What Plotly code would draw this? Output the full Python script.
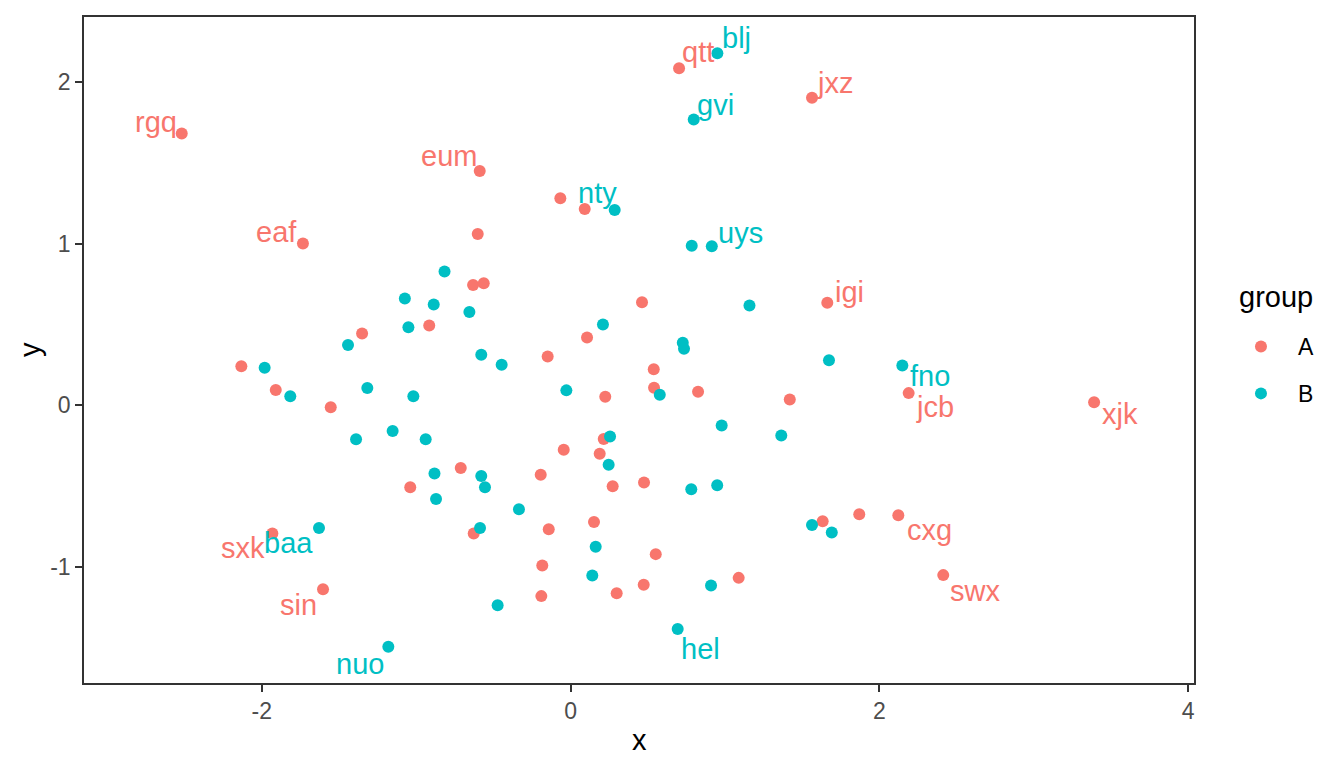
import plotly.graph_objects as go

# group A (red) points
a_x = [-2.518, -1.733, -0.588, 0.703, 1.564, -0.066, 0.092, -0.601, -0.631, -0.562,
       0.463, 1.663, -1.350, -0.915, 0.107, -0.148, -2.132, -1.909, -1.553, 0.539,
       0.541, 0.826, 0.225, 1.420, 2.190, 3.391, 0.215, -0.044, 0.189, -0.711,
       -0.193, -1.038, 0.273, 0.476, 1.870, 2.123, 1.633, 0.152, -0.141, -0.627,
       -1.931, 0.552, -0.183, 2.414, 1.089, 0.474, 0.299, -0.189, -1.603]
a_y = [1.684, 1.002, 1.451, 2.088, 1.905, 1.282, 1.216, 1.062, 0.746, 0.756,
       0.639, 0.635, 0.445, 0.495, 0.421, 0.303, 0.243, 0.095, -0.011, 0.224,
       0.109, 0.085, 0.054, 0.037, 0.076, 0.019, -0.208, -0.274, -0.299, -0.388,
       -0.429, -0.507, -0.501, -0.478, -0.674, -0.680, -0.717, -0.722, -0.767, -0.793,
       -0.793, -0.921, -0.991, -1.051, -1.068, -1.111, -1.163, -1.181, -1.138]
a_lab = ["rgq", "eaf", "eum", "qtt", "jxz", "", "", "", "", "",
         "", "igi", "", "", "", "", "", "", "", "",
         "", "", "", "", "jcb", "xjk", "", "", "", "",
         "", "", "", "", "", "cxg", "", "", "", "",
         "sxk", "", "", "swx", "", "", "", "", "sin"]

# group B (teal) points
b_x = [0.951, 0.798, 0.286, 0.785, 0.915, 1.159, -0.816, -1.073, -0.886, -1.050,
       -0.655, -1.441, 0.210, 0.727, 0.735, -0.578, -0.446, -1.981, 1.674, 2.149,
       -1.316, -1.815, -1.018, -0.027, 0.578, 0.979, 1.365, -1.152, -1.389, -0.938,
       0.256, 0.247, -0.881, -0.578, -0.554, -0.871, -0.334, 0.782, 0.950, 1.564,
       1.692, -1.629, -0.586, 0.163, 0.141, -0.472, 0.910, 0.694, -1.180]
b_y = [2.181, 1.771, 1.210, 0.988, 0.985, 0.618, 0.829, 0.662, 0.625, 0.484,
       0.579, 0.374, 0.501, 0.388, 0.351, 0.314, 0.252, 0.233, 0.280, 0.247,
       0.107, 0.056, 0.056, 0.093, 0.066, -0.124, -0.186, -0.159, -0.210, -0.210,
       -0.192, -0.367, -0.422, -0.437, -0.507, -0.579, -0.643, -0.519, -0.495, -0.740,
       -0.787, -0.759, -0.759, -0.876, -1.053, -1.237, -1.115, -1.385, -1.495]
b_lab = ["blj", "gvi", "nty", "", "uys", "", "", "", "", "",
         "", "", "", "", "", "", "", "", "", "fno",
         "", "", "", "", "", "", "", "", "", "",
         "", "", "", "", "", "", "", "", "", "",
         "", "baa", "", "", "", "", "", "hel", "nuo"]

x_ticks = [-2, 0, 2, 4]
y_ticks = [-1, 0, 1, 2]

# repel-style label offsets in pixels (dx right, dy up)
offsets = {
    "rgq": (-26, 11), "eaf": (-26, 12), "eum": (-31, 15), "qtt": (19, 16),
    "blj": (19, 15), "jxz": (23, 15), "gvi": (22, 14), "nty": (-17, 17),
    "uys": (29, 13), "igi": (22, 11), "fno": (28, -10), "jcb": (26, -14),
    "xjk": (26, -12), "cxg": (31, -15), "swx": (32, -16), "hel": (23, -20),
    "nuo": (-28, -17), "sin": (-25, -16), "sxk": (-29, -15), "baa": (-31, -15),
}

RED = "#F8766D"
TEAL = "#00BFC4"
FONT = "Liberation Sans, Arial, sans-serif"

fig = go.Figure()
fig.add_trace(go.Scatter(x=a_x, y=a_y, mode="markers", name="A", legendgroup="A",
                         marker=dict(color=RED, size=12)))
fig.add_trace(go.Scatter(x=b_x, y=b_y, mode="markers", name="B", legendgroup="B",
                         marker=dict(color=TEAL, size=12)))

annotations = []
for xs, ys, labs, col in [(a_x, a_y, a_lab, RED), (b_x, b_y, b_lab, TEAL)]:
    for xv, yv, lab in zip(xs, ys, labs):
        if not lab:
            continue
        dx, dy = offsets[lab]
        annotations.append(dict(x=xv, y=yv, text=lab, showarrow=False,
                                xshift=dx, yshift=dy, xanchor="center", yanchor="middle",
                                font=dict(size=29, color=col, family=FONT)))

# axis titles + legend title
annotations.append(dict(x=0.5, y=0, xref="paper", yref="paper", text="x", showarrow=False,
                        yshift=-57, yanchor="middle", font=dict(size=29, color="black", family=FONT)))
annotations.append(dict(x=0, y=0.5, xref="paper", yref="paper", text="y", showarrow=False,
                        xshift=-54, xanchor="center", textangle=-90,
                        font=dict(size=29, color="black", family=FONT)))
annotations.append(dict(x=1.0387, y=0.5793, xref="paper", yref="paper", text="group",
                        showarrow=False, xanchor="left", yanchor="middle",
                        font=dict(size=29, color="black", family=FONT)))

axis_style = dict(showgrid=False, zeroline=False, showline=True, mirror=True,
                  linecolor="#333333", linewidth=1.5, ticks="outside", ticklen=7,
                  tickwidth=1.5, tickcolor="#333333",
                  tickfont=dict(size=23, color="#4D4D4D", family=FONT))

fig.update_xaxes(range=[-3.151, 4.038], tickvals=x_ticks,
                 ticktext=[str(v) for v in x_ticks], **axis_style)
fig.update_yaxes(range=[-1.719, 2.405], tickvals=y_ticks,
                 ticktext=[str(v) for v in y_ticks], **axis_style)

# page body has an 8px margin, so the figure is 16px smaller than the window
fig.update_layout(
    width=1328, height=752,
    plot_bgcolor="white", paper_bgcolor="white",
    margin=dict(l=76, r=142, t=7, b=77),
    font=dict(family=FONT),
    annotations=annotations,
    showlegend=True,
    legend=dict(font=dict(size=23, color="black"),
                x=1.027, y=0.5375, xanchor="left", yanchor="top",
                tracegroupgap=14, itemwidth=64),
)

fig.write_html("out.html")
